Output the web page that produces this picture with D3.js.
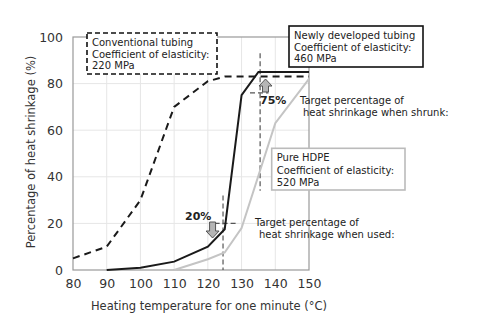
<!DOCTYPE html>
<html lang="en">
<head>
<meta charset="utf-8">
<title>Heat shrinkage</title>
<script src="https://cdn.jsdelivr.net/npm/d3@7"></script>
<style>
  body { margin: 0; background: #fff; }
  text { font-family: "DejaVu Sans", Verdana, sans-serif; fill: #333; }
  .tick text { font-size: 12.5px; }
  .note { font-size: 10px; fill: #222; }
  .pct { font-size: 11px; font-weight: bold; fill: #222; }
</style>
</head>
<body>
<script>
  // series values (temperature °C, shrinkage %)
  var convTemp = [80, 90, 100, 110, 120, 125, 150];
  var convVal  = [5, 10, 30, 70, 81, 83, 83];
  var newTemp  = [90, 100, 110, 120, 125, 130, 135, 150];
  var newVal   = [0, 1, 3.6, 10, 17.5, 75, 85, 85];
  var hdpeTemp = [110, 120, 125, 130, 140, 150];
  var hdpeVal  = [0, 4.6, 7.5, 18, 63, 82];
  var xTicks = [80, 90, 100, 110, 120, 130, 140, 150];
  var yTicks = [0, 20, 40, 60, 80, 100];

  var width = 479, height = 329;
  var x = d3.scaleLinear().domain([80, 150]).range([73, 309]);
  var y = d3.scaleLinear().domain([0, 100]).range([270, 37]);

  var svg = d3.select("body").append("svg")
    .attr("width", width)
    .attr("height", height);

  // grid
  svg.append("g").selectAll("line").data(xTicks.slice(1, -1)).enter().append("line")
    .attr("x1", d => x(d)).attr("x2", d => x(d))
    .attr("y1", y(0)).attr("y2", y(100))
    .attr("stroke", "#e6e6e6");
  svg.append("g").selectAll("line").data(yTicks.slice(1, -1)).enter().append("line")
    .attr("x1", x(80)).attr("x2", x(150))
    .attr("y1", d => y(d)).attr("y2", d => y(d))
    .attr("stroke", "#e6e6e6");

  // frame
  svg.append("rect")
    .attr("x", x(80)).attr("y", y(100))
    .attr("width", x(150) - x(80)).attr("height", y(0) - y(100))
    .attr("fill", "none").attr("stroke", "#999").attr("stroke-width", 1.2);

  // axes
  var xAxis = svg.append("g")
    .attr("transform", "translate(0," + y(0) + ")")
    .call(d3.axisBottom(x).tickValues(xTicks).tickSize(0).tickPadding(9));
  xAxis.select(".domain").remove();
  var yAxis = svg.append("g")
    .attr("transform", "translate(" + x(80) + ",0)")
    .call(d3.axisLeft(y).tickValues(yTicks).tickSize(0).tickPadding(10));
  yAxis.select(".domain").remove();

  svg.append("text")
    .attr("x", 209).attr("y", 310)
    .attr("text-anchor", "middle")
    .style("font-size", "11.5px")
    .text("Heating temperature for one minute (°C)");
  svg.append("text")
    .attr("transform", "translate(35,152) rotate(-90)")
    .attr("text-anchor", "middle")
    .style("font-size", "11.5px")
    .text("Percentage of heat shrinkage (%)");

  // guide lines
  var guide = svg.append("g")
    .attr("stroke", "#555").attr("stroke-width", 1.2)
    .attr("stroke-dasharray", "5,3").attr("fill", "none");
  guide.append("line").attr("x1", x(124.5)).attr("x2", x(124.5)).attr("y1", y(32)).attr("y2", y(0));
  guide.append("line").attr("x1", x(122)).attr("x2", x(128.4)).attr("y1", y(20)).attr("y2", y(20));
  guide.append("line").attr("x1", x(135.5)).attr("x2", x(135.5)).attr("y1", y(93)).attr("y2", y(34));
  guide.append("line").attr("x1", x(132.5)).attr("x2", x(138)).attr("y1", y(76)).attr("y2", y(76));

  // series lines
  var line = d3.line().x(d => x(d[0])).y(d => y(d[1]));
  svg.append("path")
    .datum(d3.zip(hdpeTemp, hdpeVal))
    .attr("d", line).attr("fill", "none")
    .attr("stroke", "#c4c4c4").attr("stroke-width", 2);
  svg.append("path")
    .datum(d3.zip(newTemp, newVal))
    .attr("d", line).attr("fill", "none")
    .attr("stroke", "#1a1a1a").attr("stroke-width", 2);
  svg.append("path")
    .datum(d3.zip(convTemp, convVal))
    .attr("d", line).attr("fill", "none")
    .attr("stroke", "#1a1a1a").attr("stroke-width", 2)
    .attr("stroke-dasharray", "7,5");

  // block arrows
  function arrow(cx, yTop, yBot, up) {
    var sw = 3, hw = 6.5, hl = 7;
    var pts;
    if (up) {
      pts = [[cx, yTop], [cx + hw, yTop + hl], [cx + sw, yTop + hl], [cx + sw, yBot],
             [cx - sw, yBot], [cx - sw, yTop + hl], [cx - hw, yTop + hl]];
    } else {
      pts = [[cx - sw, yTop], [cx + sw, yTop], [cx + sw, yBot - hl], [cx + hw, yBot - hl],
             [cx, yBot], [cx - hw, yBot - hl], [cx - sw, yBot - hl]];
    }
    svg.append("polygon")
      .attr("points", pts.map(p => p.join(",")).join(" "))
      .attr("fill", "#b5b5b5").attr("stroke", "#555").attr("stroke-width", 1);
  }
  arrow(x(121.4), 222, 238, false);
  arrow(x(137.1), 79, 92, true);

  svg.append("text").attr("class", "pct").attr("x", 185).attr("y", 220).text("20%");
  svg.append("text").attr("class", "pct").attr("x", 260).attr("y", 104).text("75%");

  function note(x0, y0, lines, dx) {
    var t = svg.append("text").attr("class", "note");
    lines.forEach(function(s, i) {
      t.append("tspan").attr("x", x0 + (i ? dx : 0)).attr("y", y0 + i * 12).text(s);
    });
  }
  note(300, 104, ["Target percentage of", "heat shrinkage when shrunk:"], 3);
  note(255, 225.5, ["Target percentage of", "heat shrinkage when used:"], 4);

  // legend boxes
  function box(x0, y0, w, h, stroke, dash, lines, lh) {
    svg.append("rect")
      .attr("x", x0).attr("y", y0).attr("width", w).attr("height", h)
      .attr("fill", "#fff").attr("stroke", stroke).attr("stroke-width", 1.6)
      .attr("stroke-dasharray", dash);
    var t = svg.append("text").attr("class", "note");
    lines.forEach(function(s, i) {
      t.append("tspan").attr("x", x0 + 5).attr("y", y0 + 13 + i * lh).text(s);
    });
  }
  box(87, 33, 130, 41, "#111", "5,3",
      ["Conventional tubing", "Coefficient of elasticity:", "220 MPa"], 11.7);
  box(289, 26, 134, 41, "#111", null,
      ["Newly developed tubing", "Coefficient of elasticity:", "460 MPa"], 11.7);
  box(271.7, 148.3, 133.3, 41.7, "#bbb", null,
      ["Pure HDPE", "Coefficient of elasticity:", "520 MPa"], 12.5);
</script>
</body>
</html>
